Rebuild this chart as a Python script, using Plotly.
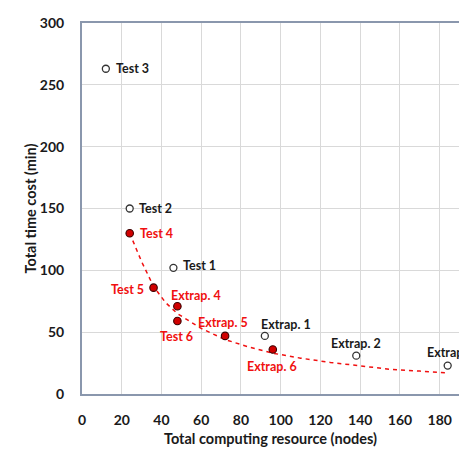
import plotly.graph_objects as go

# Open (black) test/extrapolation points
open_labels = ["Test 3", "Test 2", "Test 1", "Extrap. 1", "Extrap. 2", "Extrap. 3"]
open_x = [12, 24, 46, 92, 138, 184]
open_y = [263, 150, 102, 47, 31, 23]

# Filled (red) points
red_labels = ["Test 4", "Test 5", "Extrap. 4", "Test 6", "Extrap. 5", "Extrap. 6"]
red_x = [24, 36, 48, 48, 72, 96]
red_y = [130, 86, 71, 59, 47, 36]

# Dashed trend curve
trend_x = [24, 30, 36, 42, 48, 60, 72, 84, 96, 110, 125, 140, 155, 170, 184]
trend_y = [130, 107, 87, 74, 65, 53, 44, 38, 33, 29, 25.5, 22.5, 20, 18.5, 17]

x_ticks = [0, 20, 40, 60, 80, 100, 120, 140, 160, 180, 200]
y_ticks = [0, 50, 100, 150, 200, 250, 300]

# label placement styles (xanchor, xshift, yshift)
open_pos = [("left", 8, 0), ("left", 7, 0), ("left", 8, 2),
            ("center", 21, 11), ("center", 0, 12), ("center", 4, 13)]
red_pos = [("left", 8, 0), ("right", -8, -2), ("center", 19, 11),
           ("center", -1, -15), ("center", -2, 13), ("center", -1, -17)]

RED = "#f01010"
FONT = "Lato"
LBL = 12.5

fig = go.Figure()
fig.add_trace(go.Scatter(x=trend_x, y=trend_y, mode="lines",
                         line=dict(color=RED, width=1.5, dash="4px,4px"),
                         hoverinfo="skip", showlegend=False))
fig.add_trace(go.Scatter(x=open_x, y=open_y, mode="markers",
                         marker=dict(size=7, color="white",
                                     line=dict(color="#333333", width=1.3)),
                         showlegend=False))
fig.add_trace(go.Scatter(x=red_x, y=red_y, mode="markers",
                         marker=dict(size=7.5, color="#d00000",
                                     line=dict(color="#3a0000", width=1.1)),
                         showlegend=False))

for lab, x, y, (anc, xs, ys) in zip(open_labels, open_x, open_y, open_pos):
    fig.add_annotation(x=x, y=y, text=lab, showarrow=False, xanchor=anc,
                       yanchor="middle", xshift=xs, yshift=ys,
                       font=dict(family=FONT, size=LBL, color="#1a1a1a", weight="bold"))
for lab, x, y, (anc, xs, ys) in zip(red_labels, red_x, red_y, red_pos):
    fig.add_annotation(x=x, y=y, text=lab, showarrow=False, xanchor=anc,
                       yanchor="middle", xshift=xs, yshift=ys,
                       font=dict(family=FONT, size=LBL, color=RED, weight="bold"))

left, top, bottom = 81.5, 23, 76.3
xmax = (459 - left) / 1.99

fig.update_layout(
    width=459, height=470,
    margin=dict(l=left, r=0, t=top, b=bottom, pad=0),
    paper_bgcolor="white", plot_bgcolor="white",
    font=dict(family=FONT, color="#1a1a1a"),
    xaxis=dict(range=[0, xmax], tickvals=x_ticks, showgrid=True,
               gridcolor="#d9d9d9", gridwidth=1, zeroline=False,
               showline=True, linecolor="#8a97ad", linewidth=2, mirror=True,
               ticks="", ticklabelstandoff=12,
               tickfont=dict(family=FONT, size=14, weight="bold", color="#1a1a1a"),
               title=dict(text="Total computing resource (nodes)", standoff=7,
                          font=dict(family=FONT, size=14.5, weight="bold", color="#1a1a1a"))),
    yaxis=dict(range=[0, 300], tickvals=y_ticks, showgrid=True,
               gridcolor="#d9d9d9", gridwidth=1, zeroline=False,
               showline=True, linecolor="#8a97ad", linewidth=2, mirror=False,
               ticks="", ticklabelstandoff=13,
               tickfont=dict(family=FONT, size=14, weight="bold", color="#1a1a1a"),
               title=dict(text="Total time cost (min)", standoff=0,
                          font=dict(family=FONT, size=14.5, weight="bold", color="#1a1a1a"))),
)

fig.write_html("out.html")
